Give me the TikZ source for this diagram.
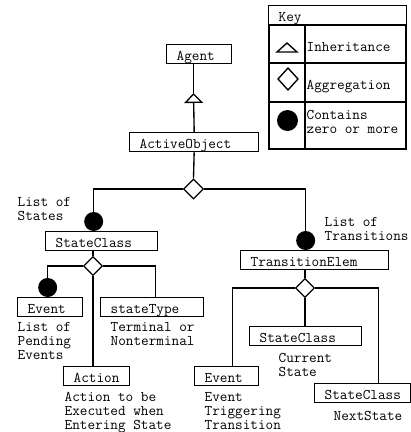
\documentclass[tikz,border=0pt]{standalone}
\usetikzlibrary{arrows.meta,positioning,shapes.geometric}
\tikzset{
  cls/.style={draw,rectangle,anchor=north west,align=left,
              inner xsep=10pt,inner ysep=0pt,text height=16pt,text depth=3pt,
              font=\ttfamily\fontsize{14.8}{14}\selectfont},
  lbl/.style={anchor=base west,align=left,inner sep=0pt,
              font=\ttfamily\fontsize{14.8}{14}\selectfont},
  agg/.style={diamond,draw,fill=white,inner sep=0pt,minimum size=20pt},
  many/.style={-{Circle[length=19pt]}},
  isa/.style={-{Triangle[open,length=10pt,width=19pt]}},
}
\begin{document}
\begin{tikzpicture}[x=1pt,y=1pt,line width=1.35pt]
  \useasboundingbox (0,0) rectangle (411,-432);
  % Key
  \node[cls,text width=118pt] (key) at (268,-5) {Key};
  \draw (269,-25) rectangle (406,-149);
  \draw (305,-25) -- (305,-149);
  \draw (269,-63) -- (406,-63);
  \draw (269,-102) -- (406,-102);
  \draw (277,-52) -- (287,-43) -- (297,-52) -- cycle;
  \draw (278,-79) -- (288,-68) -- (298,-79) -- (288,-90) -- cycle;
  \fill (287.5,-120.5) circle (10.5);
  \node[lbl] (kinh) at (306,-51) {Inheritance};
  \node[lbl] (kagg) at (306,-89.5) {Aggregation};
  \node[lbl] (kmany) at (306,-133) {Contains\\zero or more};

  % Classes
  \node[cls,text width=45pt] (agent) at (166,-44) {Agent};
  \node[cls,text width=109pt] (active) at (129,-132) {ActiveObject};
  \node[cls,text width=92pt] (sc) at (45,-231) {StateClass};
  \node[cls,text width=128pt] (tr) at (240,-250) {TransitionElem};
  \node[cls,text width=45pt] (ev1) at (17,-297) {Event};
  \node[cls,text width=83pt] (st) at (100,-297) {stateType};
  \node[cls,text width=46pt] (act) at (63,-366) {Action};
  \node[cls,text width=92pt] (sc2) at (249,-326) {StateClass};
  \node[cls,text width=44pt] (ev2) at (194,-366) {Event};
  \node[cls,text width=76pt] (sc3) at (314,-383) {StateClass};

  % Aggregations
  \node[agg] (d1) at (193.5,-189) {};
  \node[agg,minimum size=19pt] (d2) at (93,-266) {};
  \node[agg,minimum size=19pt] (d3) at (305,-288) {};
  \coordinate (inh) at (193.5,-93);

  % Connectors
  \draw[isa] (active.north) -- (inh);
  \draw (inh) -- (agent.south -| inh);
  \draw (active.south) -- (d1.north);
  \draw[many] (d1.west) -| ([xshift=-8pt]sc.north);
  \draw[many] (d1.east) -| ([xshift=-9pt]tr.north);
  \draw (d2.north |- sc.south) -- (d2.north);
  \draw[many] (d2.west) -| ([xshift=-2.5pt]ev1.north);
  \draw (d2.east) -| ([xshift=3.5pt]st.north);
  \draw (d2.south) -- (d2.south |- act.north);
  \draw (d3.north |- tr.south) -- (d3.north);
  \draw (d3.west) -| ([xshift=6pt]ev2.north);
  \draw (d3.east) -| ([xshift=16pt]sc3.north);
  \draw (d3.south) -- (d3.south |- sc2.north);

  % Labels (base = last line)
  \node[lbl] (lstates) at (17,-220) {List of\\States};
  \node[lbl] (ltrans) at (324,-240) {List of\\Transitions};
  \node[lbl] (lpend) at (17,-359) {List of\\Pending\\Events};
  \node[lbl] (lterm) at (110,-345) {Terminal or\\Nonterminal};
  \node[lbl] (lact) at (64,-429) {Action to be\\Executed when\\Entering State};
  \node[lbl] (ltrig) at (204,-429) {Event\\Triggering\\Transition};
  \node[lbl] (lcur) at (278,-376) {Current\\State};
  \node[lbl] (lnext) at (333,-420) {NextState};
\end{tikzpicture}
\end{document}
